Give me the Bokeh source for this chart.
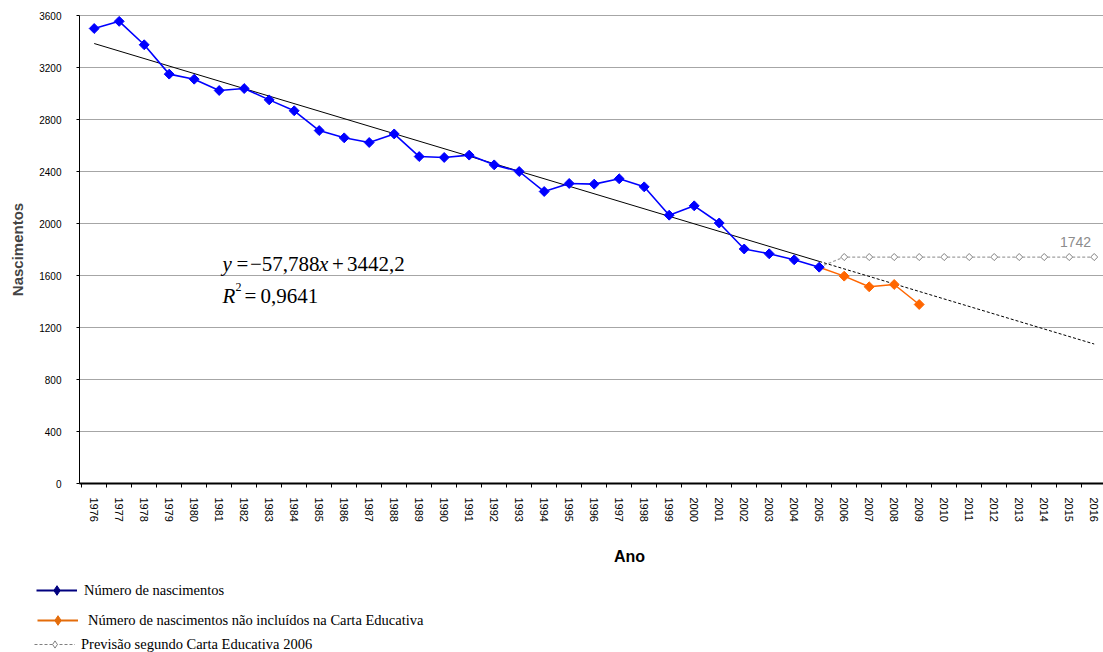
import numpy as np
from bokeh.plotting import figure
from bokeh.models import Range1d, FixedTicker, Label, Legend, LegendItem, ColumnDataSource
from bokeh.embed import file_html
from bokeh.resources import INLINE

# ---------------- data ----------------
years_obs = list(range(1976, 2006))
births = [3500, 3555, 3375, 3149, 3110, 3023, 3038, 2951, 2867, 2715,
          2659, 2623, 2689, 2515, 2508, 2526, 2451, 2400, 2246, 2308,
          2303, 2344, 2282, 2064, 2136, 2004, 1804, 1767, 1721, 1664]
years_excl = [2006, 2007, 2008, 2009]
births_excl = [1595, 1513, 1531, 1377]
years_fc = list(range(2006, 2017))
births_fc = [1742, 1742, 1742, 1742, 1742, 1742, 1742, 1742, 1742, 1742, 1742]
trend_slope = -57.788
trend_intercept = 3442.2
trend_r2 = 0.9641
y_ticks = [0, 400, 800, 1200, 1600, 2000, 2400, 2800, 3200, 3600]
x_years = list(range(1976, 2017))
x_tick_labels = [str(y) for y in x_years]

legend_labels = ["Número de nascimentos",
                 "Número de nascimentos não incluídos na Carta Educativa",
                 "Previsão segundo Carta Educativa 2006"]

BLUE = "#0000FF"
ORANGE = "#FF6600"
SERIF = "Liberation Serif"
SANS = "Liberation Sans"

# ---------------- geometry (page px) ----------------
W, H = 1103, 652
PX_YEAR = 25.0
X0_PAGE = 93.7              # page x of first year
AX_LEFT, AX_TOP, AX_BOTTOM = 79, 15, 483
PX_UNIT = (AX_BOTTOM - AX_TOP) / 3600.0

x_start = x_years[0] - X0_PAGE / PX_YEAR
x_end = x_start + W / PX_YEAR
y_end = 3600 + AX_TOP / PX_UNIT
y_start = -(H - AX_BOTTOM) / PX_UNIT
x_axis_start = x_start + AX_LEFT / PX_YEAR

p = figure(width=W, height=H, output_backend="svg", toolbar_location=None,
           x_range=Range1d(x_start, x_end), y_range=Range1d(y_start, y_end),
           min_border_left=0, min_border_right=0, min_border_top=0, min_border_bottom=0)
p.outline_line_color = None
p.background_fill_color = "white"
p.border_fill_color = "white"

# ---------------- axes ----------------
yax = p.yaxis[0]
yax.fixed_location = x_axis_start
yax.bounds = (0, 3600)
yax.ticker = FixedTicker(ticks=y_ticks)
yax.major_tick_out = 3
yax.major_tick_in = 0
yax.minor_tick_line_color = None
yax.major_label_standoff = 15
yax.major_label_text_font = SANS
yax.major_label_text_font_size = "10px"
yax.major_label_text_color = "black"
yax.axis_line_color = "black"
yax.axis_label = "Nascimentos"
yax.axis_label_text_font = SANS
yax.axis_label_text_font_style = "bold"
yax.axis_label_text_font_size = "15px"
yax.axis_label_standoff = 10

xax = p.xaxis[0]
xax.fixed_location = 0
xax.bounds = (x_axis_start, x_end)
xax.ticker = FixedTicker(ticks=x_years, minor_ticks=[y - 0.5 for y in x_years])
xax.major_label_overrides = {y: s for y, s in zip(x_years, x_tick_labels)}
xax.major_tick_in = 0
xax.major_tick_out = 0
xax.minor_tick_in = 0
xax.minor_tick_out = 4
xax.minor_tick_line_color = "black"
xax.axis_line_width = 2.2
xax.axis_line_color = "black"
xax.major_label_orientation = "vertical"
xax.major_label_standoff = 10
xax.major_label_text_font = SANS
xax.major_label_text_font_size = "11px"
xax.major_label_text_color = "black"

p.xgrid.visible = False
p.ygrid.grid_line_color = "#A6A6A6"
p.ygrid.grid_line_width = 1
p.ygrid.bounds = (0, 3600)
p.ygrid.cross_bounds = (x_axis_start, x_end)

# ---------------- trend line ----------------
def trend(year):
    return trend_slope * (year - years_obs[0] + 1) + trend_intercept

p.line([years_obs[0], years_obs[-1]], [trend(years_obs[0]), trend(years_obs[-1])],
       line_color="black", line_width=1)
p.line([years_obs[-1], x_years[-1]], [trend(years_obs[-1]), trend(x_years[-1])],
       line_color="black", line_width=1, line_dash="3 2")

# ---------------- series ----------------
p.line([years_obs[-1]] + years_fc, [births[-1]] + births_fc,
       line_color="#A0A0A0", line_width=1.2, line_dash="3 2")
p.scatter(years_fc, births_fc, marker="square", angle=np.pi / 4, size=5,
          fill_color="white", line_color="#7F7F7F", line_width=1)

p.line([years_obs[-1]] + years_excl, [births[-1]] + births_excl,
       line_color=ORANGE, line_width=1.5)
p.scatter(years_excl, births_excl, marker="square", angle=np.pi / 4, size=7,
          fill_color=ORANGE, line_color=ORANGE)

p.line(years_obs, births, line_color=BLUE, line_width=1.6)
p.scatter(years_obs, births, marker="square", angle=np.pi / 4, size=7,
          fill_color=BLUE, line_color=BLUE)

p.add_layout(Label(x=years_fc[-2] + 0.25, y=births_fc[-2], y_offset=15,
                   text=str(births_fc[-2]), text_font=SANS, text_font_size="14px",
                   text_color="#8C8C8C", text_align="center", text_baseline="middle"))

# ---------------- equation ----------------
slope_txt = f"{trend_slope:.3f}".replace(".", ",").replace("-", "\u2212")
icpt_txt = f"{trend_intercept:.1f}".replace(".", ",")
r2_txt = f"{trend_r2:.4f}".replace(".", ",")

def txt(x_page, y_base_page, s, size="21px", style="normal"):
    p.add_layout(Label(x=x_page, y=H - y_base_page, x_units="screen", y_units="screen",
                       text=s, text_font=SERIF, text_font_size=size, text_font_style=style,
                       text_color="black", text_align="left", text_baseline="alphabetic"))

txt(222, 263, "y", style="italic")
txt(236, 263, "=")
txt(249.5, 263, slope_txt)
txt(318.5, 263, "x", style="italic")
txt(331.5, 263, "+")
txt(346.5, 263, icpt_txt)
txt(222, 295, "R", style="italic")
txt(235, 286, "2", size="12px")
txt(244, 295, "=")
txt(260, 295, r2_txt)

# x axis title
p.add_layout(Label(x=629, y=H - 556, x_units="screen", y_units="screen",
                   text="Ano", text_font=SANS, text_font_size="16px", text_font_style="bold",
                   text_color="black", text_align="center", text_baseline="middle"))

# ---------------- legend ----------------
specs = [
    # line colour, dash, marker fill, marker line, centre y, glyph h, x, standoff
    ("#00007F", None, "#00007F", "#00007F", 590, 24, 36, 7),
    ("#E46C0A", None, "#E46C0A", "#E46C0A", 620, 24, 37, 10),
    ("#7F7F7F", "3 2", "white", "#7F7F7F", 644, 18, 34, 6),
]
for (lc, dash, fc, mlc, yc, gh, lx, so), lab in zip(specs, legend_labels):
    src = ColumnDataSource(data=dict(x=[np.nan], y=[np.nan]))
    kw = dict(line_dash=dash) if dash else {}
    r1 = p.line("x", "y", source=src, line_color=lc, line_width=2 if dash is None else 1, **kw)
    r2 = p.scatter("x", "y", source=src, marker="diamond", fill_color=fc, line_color=mlc)
    leg = Legend(items=[LegendItem(label=lab, renderers=[r1, r2])],
                 location=(lx, H - yc - gh / 2),
                 glyph_width=41, glyph_height=gh, label_height=gh, label_standoff=so,
                 padding=0, margin=0, spacing=0,
                 border_line_color=None, background_fill_alpha=0,
                 label_text_font=SERIF, label_text_font_size="14.5px",
                 label_text_color="black")
    p.add_layout(leg, "center")

open("out.html", "w").write(file_html(p, INLINE))
